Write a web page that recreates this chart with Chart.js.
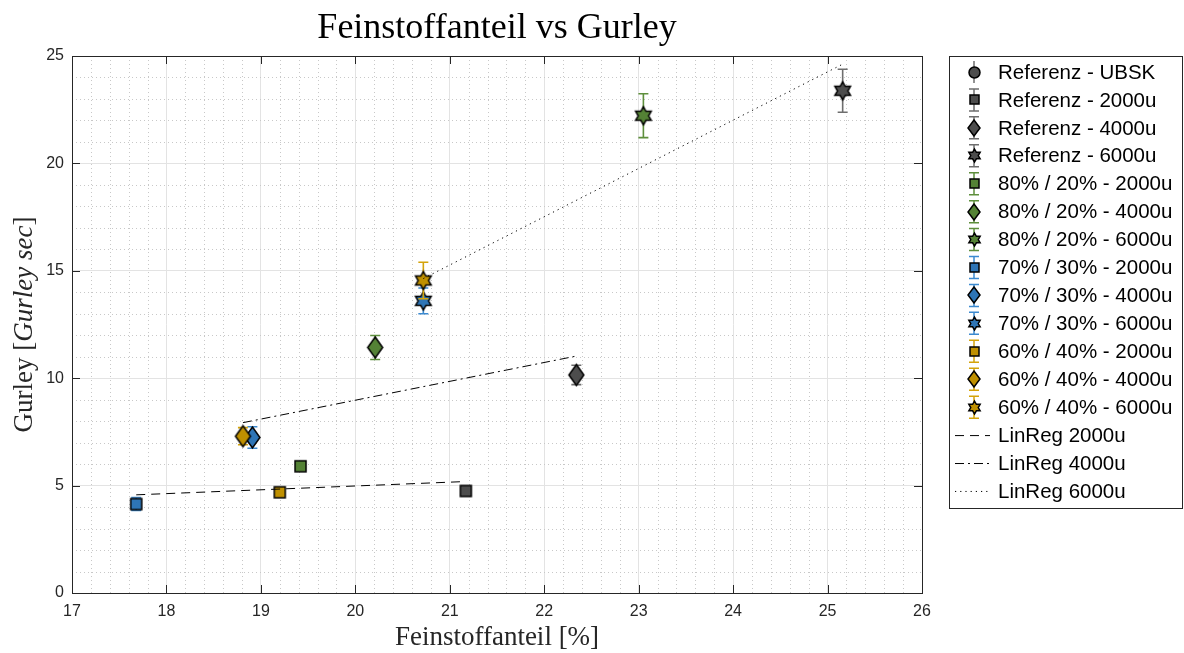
<!DOCTYPE html>
<html>
<head>
<meta charset="utf-8">
<script src="https://cdn.jsdelivr.net/npm/chart.js@4.4.1/dist/chart.umd.min.js"></script>
<style>
  html, body { margin: 0; padding: 0; background: #fff; }
  #wrap { width: 1184px; height: 653px; }
</style>
</head>
<body>
<div id="wrap"><canvas id="chart" width="1184" height="653"></canvas></div>
<script>
// ================= DATA =================
const xTicks = [17, 18, 19, 20, 21, 22, 23, 24, 25, 26];
const yTicks = [0, 5, 10, 15, 20, 25];

// order inside each group: 2000u, 4000u, 6000u
const refFein = [21.17, 22.34, 25.16];
const refGurley = [4.75, 10.15, 23.38];
const refErr = [0.15, 0.45, 1.0];

const m80Fein = [19.42, 20.21, 23.05];
const m80Gurley = [5.9, 11.43, 22.22];
const m80Err = [0.12, 0.56, 1.02];

const m70Fein = [17.68, 18.91, 20.72];
const m70Gurley = [4.14, 7.24, 13.6];
const m70Err = [0.3, 0.5, 0.6];

const m60Fein = [19.2, 18.81, 20.72];
const m60Gurley = [4.69, 7.3, 14.55];
const m60Err = [0.1, 0.4, 0.85];

// regression lines (start / end)
const reg2000X = [17.68, 21.17];
const reg2000Y = [4.57, 5.19];
const reg4000X = [18.81, 22.34];
const reg4000Y = [7.93, 11.03];
const reg6000X = [20.72, 25.16];
const reg6000Y = [14.64, 24.62];

// ================= STYLE =================
const C = {
  ref: ["#4d4d4d", "#6e6e6e"],
  g80: ["#548235", "#5e8f3c"],
  b70: ["#2e75b6", "#3c8ad0"],
  y60: ["#bf9000", "#d4a30a"]
};

function marker(shape, fill, s) {
  const w = Math.round(s.w);
  const h = Math.round(s.h || s.w);
  const c = document.createElement("canvas");
  c.width = w + 4; c.height = h + 4;
  const g = c.getContext("2d");
  g.translate(c.width / 2, c.height / 2);
  g.beginPath();
  if (shape === "square") g.rect(-w / 2, -h / 2, w, h);
  else if (shape === "circle") g.arc(0, 0, w / 2, 0, Math.PI * 2);
  else if (shape === "diamond") {
    g.moveTo(0, -h / 2); g.lineTo(w / 2, 0); g.lineTo(0, h / 2); g.lineTo(-w / 2, 0); g.closePath();
  } else {
    for (let k = 0; k < 12; k++) {
      const a = -Math.PI / 2 + k * Math.PI / 6;
      const r = k % 2 ? (w / 2) / Math.sqrt(3) : w / 2;
      const px = r * Math.cos(a), py = r * Math.sin(a);
      k ? g.lineTo(px, py) : g.moveTo(px, py);
    }
    g.closePath();
  }
  g.fillStyle = fill; g.fill();
  g.lineWidth = 1.5; g.strokeStyle = "#000"; g.stroke();
  return c;
}

const SIZE = {
  square: { w: 11 }, diamond: { w: 15, h: 21 }, star: { w: 18 }, circle: { w: 12 }
};
const LSIZE = {
  square: { w: 9 }, diamond: { w: 12, h: 16 }, star: { w: 13 }, circle: { w: 11 }
};

function pts(xs, ys) { return xs.map((x, i) => ({ x, y: ys[i] })); }

function series(label, shape, col, x, y, e) {
  return {
    label,
    data: x != null ? [{ x, y }] : [],
    errors: e != null ? [e] : [],
    errColor: col[1],
    shape, fill: col[0],
    pointStyle: marker(shape, col[0], SIZE[shape]),
    legendIcon: marker(shape, col[0], LSIZE[shape]),
    showLine: false
  };
}

const groups = [
  ["Referenz", C.ref, refFein, refGurley, refErr],
  ["80% / 20%", C.g80, m80Fein, m80Gurley, m80Err],
  ["70% / 30%", C.b70, m70Fein, m70Gurley, m70Err],
  ["60% / 40%", C.y60, m60Fein, m60Gurley, m60Err]
];
const sizes = ["2000u", "4000u", "6000u"];
const shapes = ["square", "diamond", "star"];

const datasets = [series("Referenz - UBSK", "circle", C.ref, null, null, null)];
datasets[0].noCaps = true;
groups.forEach(([name, col, xs, ys, es]) => {
  sizes.forEach((s, i) => {
    datasets.push(series(`${name} - ${s}`, shapes[i], col, xs[i], ys[i], es[i]));
  });
});

function regLine(label, xs, ys, dash) {
  return {
    label, data: pts(xs, ys), showLine: true, isLine: true,
    borderColor: "#000", borderWidth: 1, borderDash: dash,
    pointRadius: 0, pointHoverRadius: 0, fill: false
  };
}
datasets.push(regLine("LinReg 2000u", reg2000X, reg2000Y, [9, 6]));
datasets.push(regLine("LinReg 4000u", reg4000X, reg4000Y, [9, 4, 2, 4]));
datasets.push(regLine("LinReg 6000u", reg6000X, reg6000Y, [1.2, 4]));

// later series drawn on top
datasets.forEach((d, i) => d.order = datasets.length - i);

// ================= PLUGINS =================
const AXIS = "#262626";

const errorBars = {
  id: "errorBars",
  beforeDatasetDraw(chart, args) {
    const ds = chart.data.datasets[args.index];
    if (!ds.errors || !ds.errors.length) return;
    const { ctx, scales: { x, y } } = chart;
    ctx.save();
    ctx.strokeStyle = ds.errColor;
    ctx.lineWidth = 1.6;
    ds.data.forEach((p, j) => {
      const px = x.getPixelForValue(p.x);
      const t = y.getPixelForValue(p.y + ds.errors[j]);
      const b = y.getPixelForValue(p.y - ds.errors[j]);
      ctx.beginPath();
      ctx.moveTo(px, t); ctx.lineTo(px, b);
      ctx.moveTo(px - 5, t); ctx.lineTo(px + 5, t);
      ctx.moveTo(px - 5, b); ctx.lineTo(px + 5, b);
      ctx.stroke();
    });
    ctx.restore();
  }
};

const frame = {
  id: "frame",
  beforeDatasetsDraw(chart) {
    const { ctx, chartArea: a, scales: { x, y } } = chart;
    ctx.save();
    // minor grid
    ctx.strokeStyle = "#c8c8c8";
    ctx.lineWidth = 1;
    ctx.setLineDash([1, 3]);
    for (let v = x.min + 0.2; v < x.max - 0.01; v += 0.2) {
      if (Math.abs(v - Math.round(v)) < 0.01) continue;
      const px = Math.round(x.getPixelForValue(v)) + 0.5;
      ctx.beginPath(); ctx.moveTo(px, a.top); ctx.lineTo(px, a.bottom); ctx.stroke();
    }
    for (let v = y.min + 1; v < y.max; v += 1) {
      if (v % 5 === 0) continue;
      const py = Math.round(y.getPixelForValue(v)) + 0.5;
      ctx.beginPath(); ctx.moveTo(a.left, py); ctx.lineTo(a.right, py); ctx.stroke();
    }
    ctx.restore();
  },
  afterDatasetsDraw(chart) {
    const { ctx, chartArea: a, scales: { x, y } } = chart;
    ctx.save();
    ctx.strokeStyle = AXIS;
    ctx.lineWidth = 1;
    ctx.strokeRect(a.left + 0.5, a.top + 0.5, a.right - a.left, a.bottom - a.top);
    ctx.beginPath();
    xTicks.forEach(v => {
      const px = Math.round(x.getPixelForValue(v)) + 0.5;
      ctx.moveTo(px, a.bottom); ctx.lineTo(px, a.bottom - 8);
      ctx.moveTo(px, a.top); ctx.lineTo(px, a.top + 8);
    });
    yTicks.forEach(v => {
      const py = Math.round(y.getPixelForValue(v)) + 0.5;
      ctx.moveTo(a.left, py); ctx.lineTo(a.left + 8, py);
      ctx.moveTo(a.right, py); ctx.lineTo(a.right - 8, py);
    });
    ctx.stroke();
    ctx.restore();
  }
};

const texts = {
  id: "texts",
  afterDraw(chart) {
    const { ctx, chartArea: a } = chart;
    const cx = (a.left + a.right) / 2;
    ctx.save();
    ctx.fillStyle = "#000";
    ctx.textAlign = "center";
    ctx.textBaseline = "alphabetic";
    ctx.font = "36px 'Liberation Serif'";
    ctx.fillText("Feinstoffanteil vs Gurley", cx, 38);

    ctx.fillStyle = AXIS;
    ctx.font = "27px 'Liberation Serif'";
    ctx.fillText("Feinstoffanteil [%]", cx, 645);

    // y label with italic unit
    const parts = [["Gurley [", "27px 'Liberation Serif'"],
                   ["Gurley sec", "italic 27px 'Liberation Serif'"],
                   ["]", "27px 'Liberation Serif'"]];
    let total = 0;
    parts.forEach(p => { ctx.font = p[1]; total += ctx.measureText(p[0]).width; });
    ctx.translate(32, (a.top + a.bottom) / 2);
    ctx.rotate(-Math.PI / 2);
    ctx.textAlign = "left";
    let xpos = -total / 2;
    parts.forEach(p => {
      ctx.font = p[1];
      ctx.fillText(p[0], xpos, 0);
      xpos += ctx.measureText(p[0]).width;
    });
    ctx.restore();
  }
};

const legendBox = {
  id: "legendBox",
  afterDraw(chart) {
    const { ctx } = chart;
    const L = 949, T = 56, W = 233, H = 452;
    ctx.save();
    ctx.fillStyle = "#fff";
    ctx.fillRect(L, T, W, H);
    ctx.strokeStyle = AXIS;
    ctx.lineWidth = 1;
    ctx.strokeRect(L + 0.5, T + 0.5, W, H);
    ctx.font = "20.5px 'Liberation Sans'";
    ctx.textBaseline = "middle";
    chart.data.datasets.forEach((ds, i) => {
      const yy = 72 + i * 27.93;
      const mx = 974;
      if (ds.isLine) {
        ctx.strokeStyle = "#000";
        ctx.lineWidth = 1;
        ctx.setLineDash(ds.borderDash);
        ctx.beginPath(); ctx.moveTo(955, yy + 0.5); ctx.lineTo(990, yy + 0.5); ctx.stroke();
        ctx.setLineDash([]);
      } else {
        ctx.strokeStyle = ds.errColor;
        ctx.lineWidth = 1.5;
        ctx.beginPath();
        ctx.moveTo(mx, yy - 11); ctx.lineTo(mx, yy + 11);
        if (!ds.noCaps) {
          ctx.moveTo(mx - 5, yy - 11); ctx.lineTo(mx + 5, yy - 11);
          ctx.moveTo(mx - 5, yy + 11); ctx.lineTo(mx + 5, yy + 11);
        }
        ctx.stroke();
        const ic = ds.legendIcon;
        ctx.drawImage(ic, Math.round(mx - ic.width / 2), Math.round(yy - ic.height / 2));
      }
      ctx.fillStyle = "#000";
      ctx.fillText(ds.label, 998, yy + 1);
    });
    ctx.restore();
  }
};

// ================= CHART =================
const tickFont = { family: "'Liberation Sans'", size: 16 };

new Chart(document.getElementById("chart"), {
  type: "scatter",
  data: { datasets },
  options: {
    responsive: false,
    devicePixelRatio: 1,
    animation: false,
    layout: { padding: { top: 56, right: 262, bottom: 0, left: 0 } },
    plugins: { legend: { display: false }, title: { display: false }, tooltip: { enabled: false } },
    scales: {
      x: {
        type: "linear", min: 17, max: 26,
        afterBuildTicks: s => { s.ticks = xTicks.map(v => ({ value: v })); },
        afterFit: s => { s.height = 60; },
        grid: { color: "#e3e3e3", drawTicks: false },
        border: { display: false },
        ticks: { color: AXIS, font: tickFont, padding: 9, maxRotation: 0 }
      },
      y: {
        type: "linear", min: 0, max: 25,
        afterBuildTicks: s => { s.ticks = yTicks.map(v => ({ value: v })); },
        afterFit: s => { s.width = 72; },
        grid: { color: "#e3e3e3", drawTicks: false },
        border: { display: false },
        ticks: { color: AXIS, font: tickFont, padding: 8 }
      }
    }
  },
  plugins: [frame, errorBars, texts, legendBox]
});
</script>
</body>
</html>
